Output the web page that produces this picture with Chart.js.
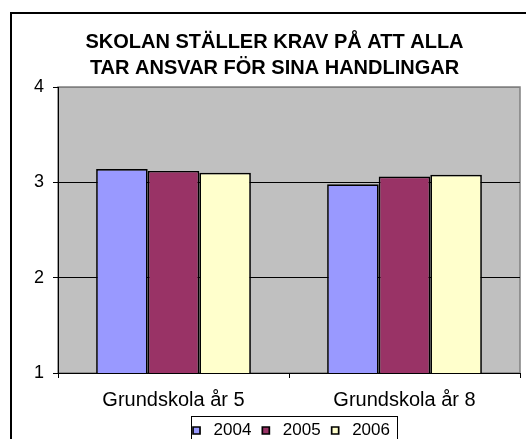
<!DOCTYPE html>
<html>
<head>
<meta charset="utf-8">
<script src="https://cdn.jsdelivr.net/npm/chart.js@4/dist/chart.umd.min.js"></script>
<style>
  html, body { margin: 0; padding: 0; background: #fff; }
  #wrap { width: 526px; height: 439px; }
</style>
</head>
<body>
<div id="wrap"><canvas id="chart" width="526" height="439"></canvas></div>
<script>
// data
const titleLines = ['SKOLAN STÄLLER KRAV PÅ ATT ALLA', 'TAR ANSVAR FÖR SINA HANDLINGAR'];
const categories = ['Grundskola år 5', 'Grundskola år 8'];
const years = ['2004', '2005', '2006'];
const values2004 = [3.14, 2.98];
const values2005 = [3.12, 3.06];
const values2006 = [3.10, 3.08];
const yTicks = [1, 2, 3, 4];

const colors = ['#9999FF', '#993366', '#FFFFCC'];
const seriesValues = [values2004, values2005, values2006];
const FONT = 'Arial, "Liberation Sans", sans-serif';

// frame, plot background and legend box
const framePlugin = {
    id: 'frame',
    beforeDraw(chart) {
        const c = chart.ctx;
        const a = chart.chartArea;
        c.save();
        c.fillStyle = '#fff';
        c.fillRect(0, 0, chart.width, chart.height);
        c.fillStyle = '#C0C0C0';
        c.fillRect(a.left, a.top, a.right - a.left, a.bottom - a.top);
        c.strokeStyle = '#808080';
        c.lineWidth = 1.5;
        c.strokeRect(a.left, a.top, a.right - a.left, a.bottom - a.top);
        c.restore();
    },
    afterLayout(chart) {
        // legend sits under the plot centre, not the whole chart
        const lg = chart.legend;
        const a = chart.chartArea;
        const c = chart.ctx;
        c.save();
        c.font = '17px ' + FONT;
        let w = 0;
        years.forEach((y, i) => {
            w += 17 + 8.5 + c.measureText(y).width + (i ? 6 : 0);
        });
        c.restore();
        const start = (a.left + a.right) / 2 - w / 2;
        const shift = start - (lg.left + 6);
        lg.left += shift;
        lg.right += shift;
        lg._boxW = w;
    },
    afterDraw(chart) {
        const c = chart.ctx;
        const lg = chart.legend;
        c.save();
        c.strokeStyle = '#000';
        c.lineWidth = 1;
        const x0 = Math.round(lg.left + 6 + 3) + 0.5;
        const x1 = Math.round(lg.left + 6 + lg._boxW + 7) + 0.5;
        c.strokeRect(x0, lg.top + 0.5, x1 - x0, 40);
        // outer chart border
        c.lineWidth = 2;
        c.strokeRect(11, 13, 700, 700);
        c.restore();
    }
};

new Chart(document.getElementById('chart'), {
    type: 'bar',
    data: {
        labels: categories,
        datasets: years.map((y, i) => ({
            label: y,
            data: seriesValues[i],
            backgroundColor: colors[i],
            borderColor: '#000',
            borderWidth: 1.7,
            borderSkipped: false,
            categoryPercentage: 0.67,
            barPercentage: 1
        }))
    },
    options: {
        responsive: false,
        animation: false,
        devicePixelRatio: 1,
        layout: { padding: { top: 29, left: 29, right: 6, bottom: -10 } },
        scales: {
            x: {
                afterFit(s) { s.height = 43; },
                grid: {
                    offset: true,
                    drawOnChartArea: false,
                    drawTicks: true,
                    tickLength: 5,
                    color: '#000'
                },
                border: { display: true, color: '#000', width: 1 },
                ticks: {
                    color: '#000',
                    padding: 10,
                    font: { family: FONT, size: 20 }
                }
            },
            y: {
                min: 1,
                max: 4,
                afterFit(s) { s.width = 29; },
                afterBuildTicks(s) { s.ticks = yTicks.map(v => ({ value: v })); },
                grid: {
                    color: ctx => (ctx.tick && ctx.tick.value === 4 ? '#808080' : '#000'),
                    tickColor: '#000',
                    tickLength: 5,
                    lineWidth: 1
                },
                border: { display: true, color: '#000', width: 1 },
                ticks: {
                    color: '#000',
                    padding: 9,
                    font: { family: FONT, size: 18 }
                }
            }
        },
        plugins: {
            title: {
                display: true,
                text: titleLines,
                color: '#000',
                font: { family: FONT, size: 20, weight: 'bold', lineHeight: 26 / 20 },
                padding: { top: 0, bottom: 6 }
            },
            legend: {
                display: true,
                position: 'bottom',
                align: 'start',
                labels: {
                    color: '#000',
                    font: { family: FONT, size: 17 },
                    usePointStyle: true,
                    pointStyle: 'rect',
                    boxWidth: 17,
                    boxHeight: 7,
                    padding: 6
                }
            },
            tooltip: { enabled: false }
        }
    },
    plugins: [framePlugin]
});
</script>
</body>
</html>
